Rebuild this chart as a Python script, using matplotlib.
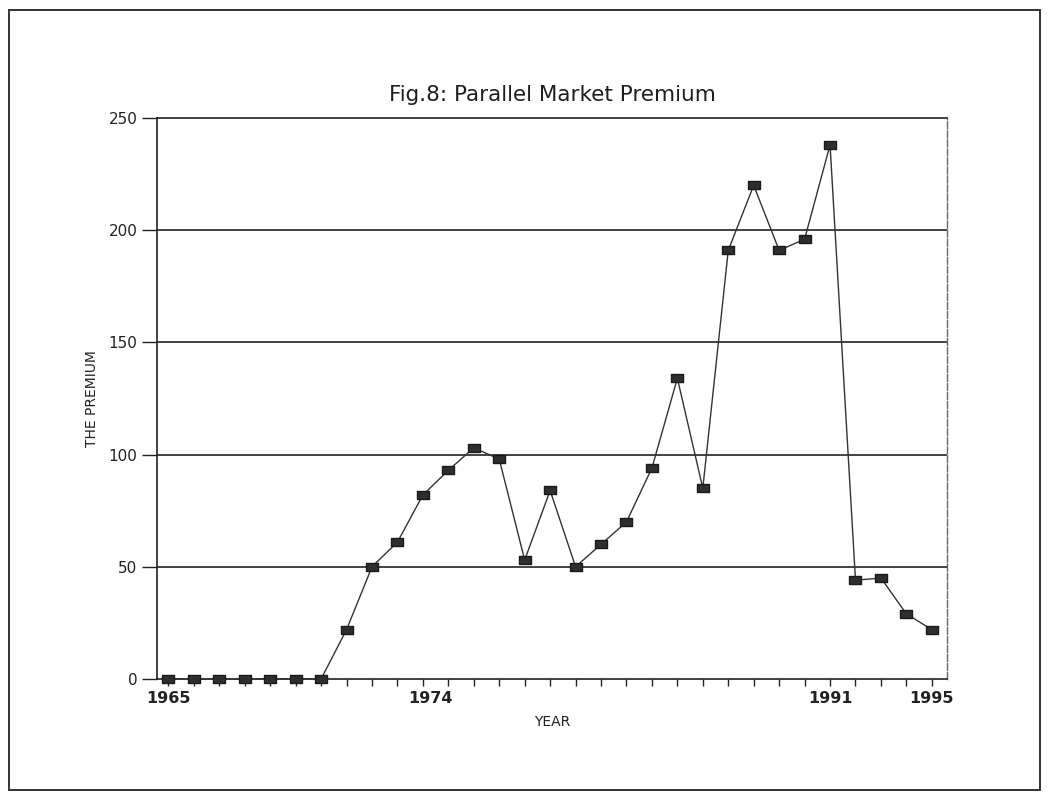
#!/usr/bin/env python3
"""
Fig.8: Parallel Market Premium -- line chart with square markers,
redrawn to look like the old scanned report figure.
"""

import matplotlib
matplotlib.use("Agg")
import matplotlib.pyplot as plt
import matplotlib.transforms as mtransforms
from matplotlib.patches import Rectangle

# Data (one point per year)
years = list(range(1965, 1996))
premium = [0, 0, 0, 0, 0, 0, 0,
           22, 50, 61, 82, 93, 103, 98, 53, 84, 50, 60, 70, 94,
           134, 85, 191, 220, 191, 196, 238, 44, 45, 29, 22]

year_labels = [1965, 1974, 1991, 1995]
y_ticks = [0, 50, 100, 150, 200, 250]

TITLE = "Fig.8: Parallel Market Premium"
XLABEL = "YEAR"
YLABEL = "THE PREMIUM"

fig = plt.figure(figsize=(10.5, 7.93), dpi=100)
ax = fig.add_axes([0.1495, 0.1438, 0.7525, 0.7074])

# outer frame around the whole figure
fig.patches.append(Rectangle((9 / 1050, 3 / 793), 1031 / 1050, 780 / 793,
                             transform=fig.transFigure, fill=False,
                             edgecolor="#333333", linewidth=1.4))

# horizontal grid lines
for y in y_ticks[1:-1]:
    ax.axhline(y, color="#222222", linewidth=1.2, zorder=1)

# rectangular marker, a bit wider than tall
rect = [(-1.4, -1), (1.4, -1), (1.4, 1), (-1.4, 1), (-1.4, -1)]
ax.plot(years, premium, color="#333333", linewidth=1.0,
        marker=rect, markersize=8.5, markerfacecolor="#2e2e2e",
        markeredgecolor="#1a1a1a", zorder=3, clip_on=False)

ax.set_xlim(1964.55, 1995.6)
ax.set_ylim(0, 250)

ax.set_yticks(y_ticks)
ax.set_yticklabels([str(v) for v in y_ticks], fontsize=11, color="#222222")
ax.tick_params(axis="y", direction="out", length=11, width=1.0, pad=3,
               colors="#222222")

ax.set_xticks(year_labels)
ax.set_xticklabels([str(v) for v in year_labels], fontsize=11.5,
                   color="#111111", fontweight="bold")
ax.set_xticks(years, minor=True)
ax.tick_params(axis="x", which="both", direction="out", length=5, width=1.0,
               pad=4, colors="#222222")

# the 1974 label sits a little right of its tick in the original
for lab in ax.get_xticklabels():
    if lab.get_text() == "1974":
        lab.set_transform(lab.get_transform() +
                          mtransforms.ScaledTranslation(0.33, 0, fig.dpi_scale_trans))

for side in ["left", "bottom", "top"]:
    ax.spines[side].set_color("#222222")
    ax.spines[side].set_linewidth(1.2)
ax.spines["right"].set_color("#666666")
ax.spines["right"].set_linewidth(1.0)
ax.spines["right"].set_linestyle((0, (5, 1.5)))

ax.set_title(TITLE, fontsize=15.5, color="#1e1e1e", pad=12,
             family="DejaVu Sans")
ax.set_xlabel(XLABEL, fontsize=10, color="#222222", labelpad=6)
ax.set_ylabel(YLABEL, fontsize=10, color="#222222", labelpad=7)

fig.savefig("out.png", dpi=100)
